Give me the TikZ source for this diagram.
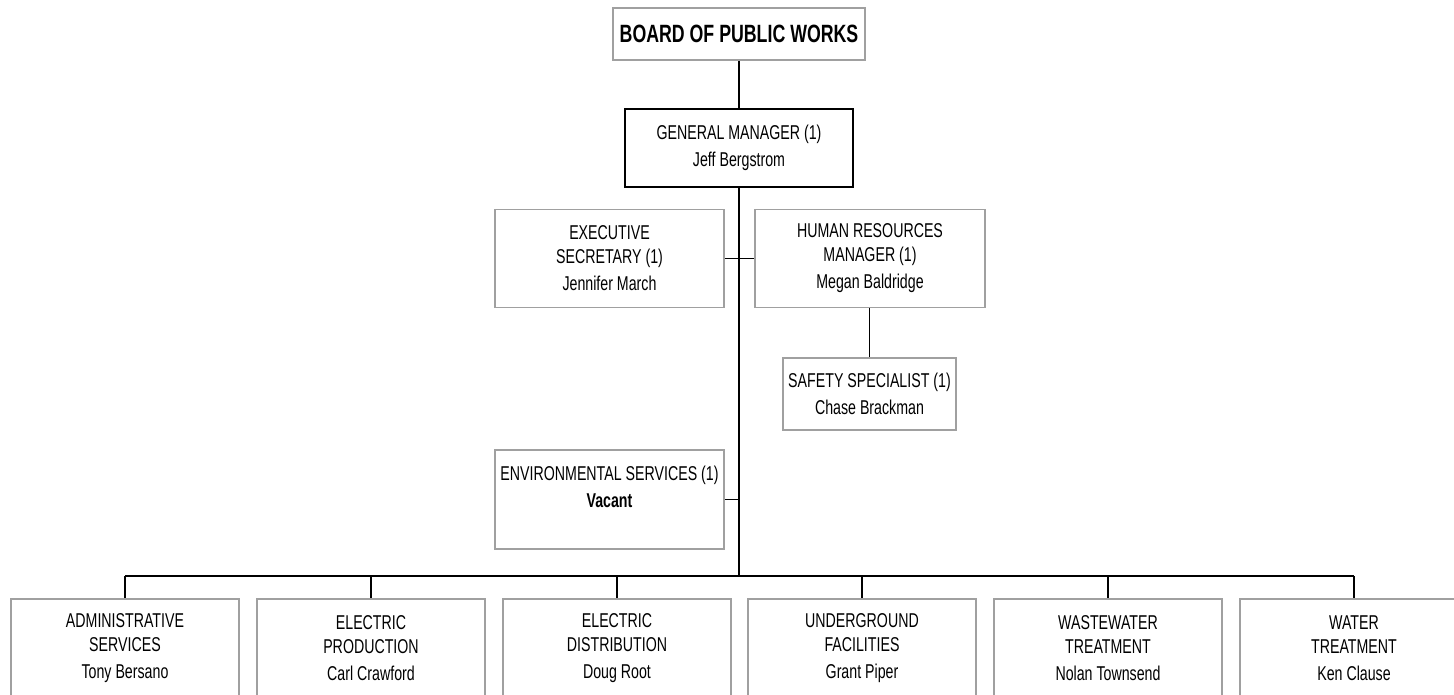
\documentclass[tikz,border=0pt]{standalone}
\usepackage{fontspec}
\setmainfont{Liberation Sans}[FakeStretch=0.71]
\definecolor{boxline}{RGB}{160,160,160}
\tikzset{
  box/.style={draw=boxline, line width=1.6pt, fill=white, inner sep=0pt,
    align=center, font=\fontsize{20}{24}\selectfont,
    minimum width=228pt, minimum height=98pt},
  plain/.style={inner sep=0pt, align=center, font=\fontsize{20}{24}\selectfont},
  link/.style={draw=black, line width=1.8pt},
}
\begin{document}
\begin{tikzpicture}[x=1pt,y=-1pt]
\useasboundingbox (0,0) rectangle (1454,695);
\clip (0,0) rectangle (1454,695);

% top of the chart
\node[box, minimum width=252pt, minimum height=52pt,
  font=\fontsize{25}{30}\selectfont\bfseries] (board) at (739,34) {BOARD OF PUBLIC WORKS};
\node[box, draw=black, minimum height=78pt] (gm) at (739,148)
  {GENERAL MANAGER (1)\\[3pt]Jeff Bergstrom};

% staff positions
\node[box, minimum width=229pt] (exec) at (609.5,258.5)
  {EXECUTIVE\\SECRETARY (1)\\[3pt]Jennifer March};
\node[box, minimum width=230pt] (hr) at (870,258.5)
  {HUMAN RESOURCES\\MANAGER (1)\\[3pt]Megan Baldridge};
\node[box, minimum width=173pt, minimum height=72pt] (safety) at (869.5,394)
  {SAFETY SPECIALIST (1)\\[3pt]Chase Brackman};
\node[box, minimum width=229pt, minimum height=99pt] (env) at (609.5,499.5) {};
\node[plain] (envtext) at (609.5,487)
  {ENVIRONMENTAL SERVICES (1)\\[3pt]\textbf{Vacant}};

% departments
\node[box] (adm)  at (125,648)  {ADMINISTRATIVE\\SERVICES\\[3pt]Tony Bersano};
\node[box] (prod) at (371,648)  {ELECTRIC\\PRODUCTION\\[3pt]Carl Crawford};
\node[box] (dist) at (617,648)  {ELECTRIC\\DISTRIBUTION\\[3pt]Doug Root};
\node[box] (ugf)  at (862,648)  {UNDERGROUND\\FACILITIES\\[3pt]Grant Piper};
\node[box] (wwt)  at (1108,648) {WASTEWATER\\TREATMENT\\[3pt]Nolan Townsend};
\node[box] (wat)  at (1354,648) {WATER\\TREATMENT\\[3pt]Ken Clause};

% connectors
\coordinate (bus) at (739,576);
\draw[link] (board.south) -- (gm.north);
\draw[link] (gm.south) -- (bus);
\draw[link] (exec.east) -- (hr.west);
\draw[link] (hr.south -| safety.north) -- (safety.north);
\draw[link] (env.east) -- (env.east -| bus);
\draw[link] (adm.north |- bus) -- (wat.north |- bus);
\foreach \d in {adm,prod,dist,ugf,wwt,wat}
  \draw[link] (\d.north |- bus) -- (\d.north);
\end{tikzpicture}
\end{document}
